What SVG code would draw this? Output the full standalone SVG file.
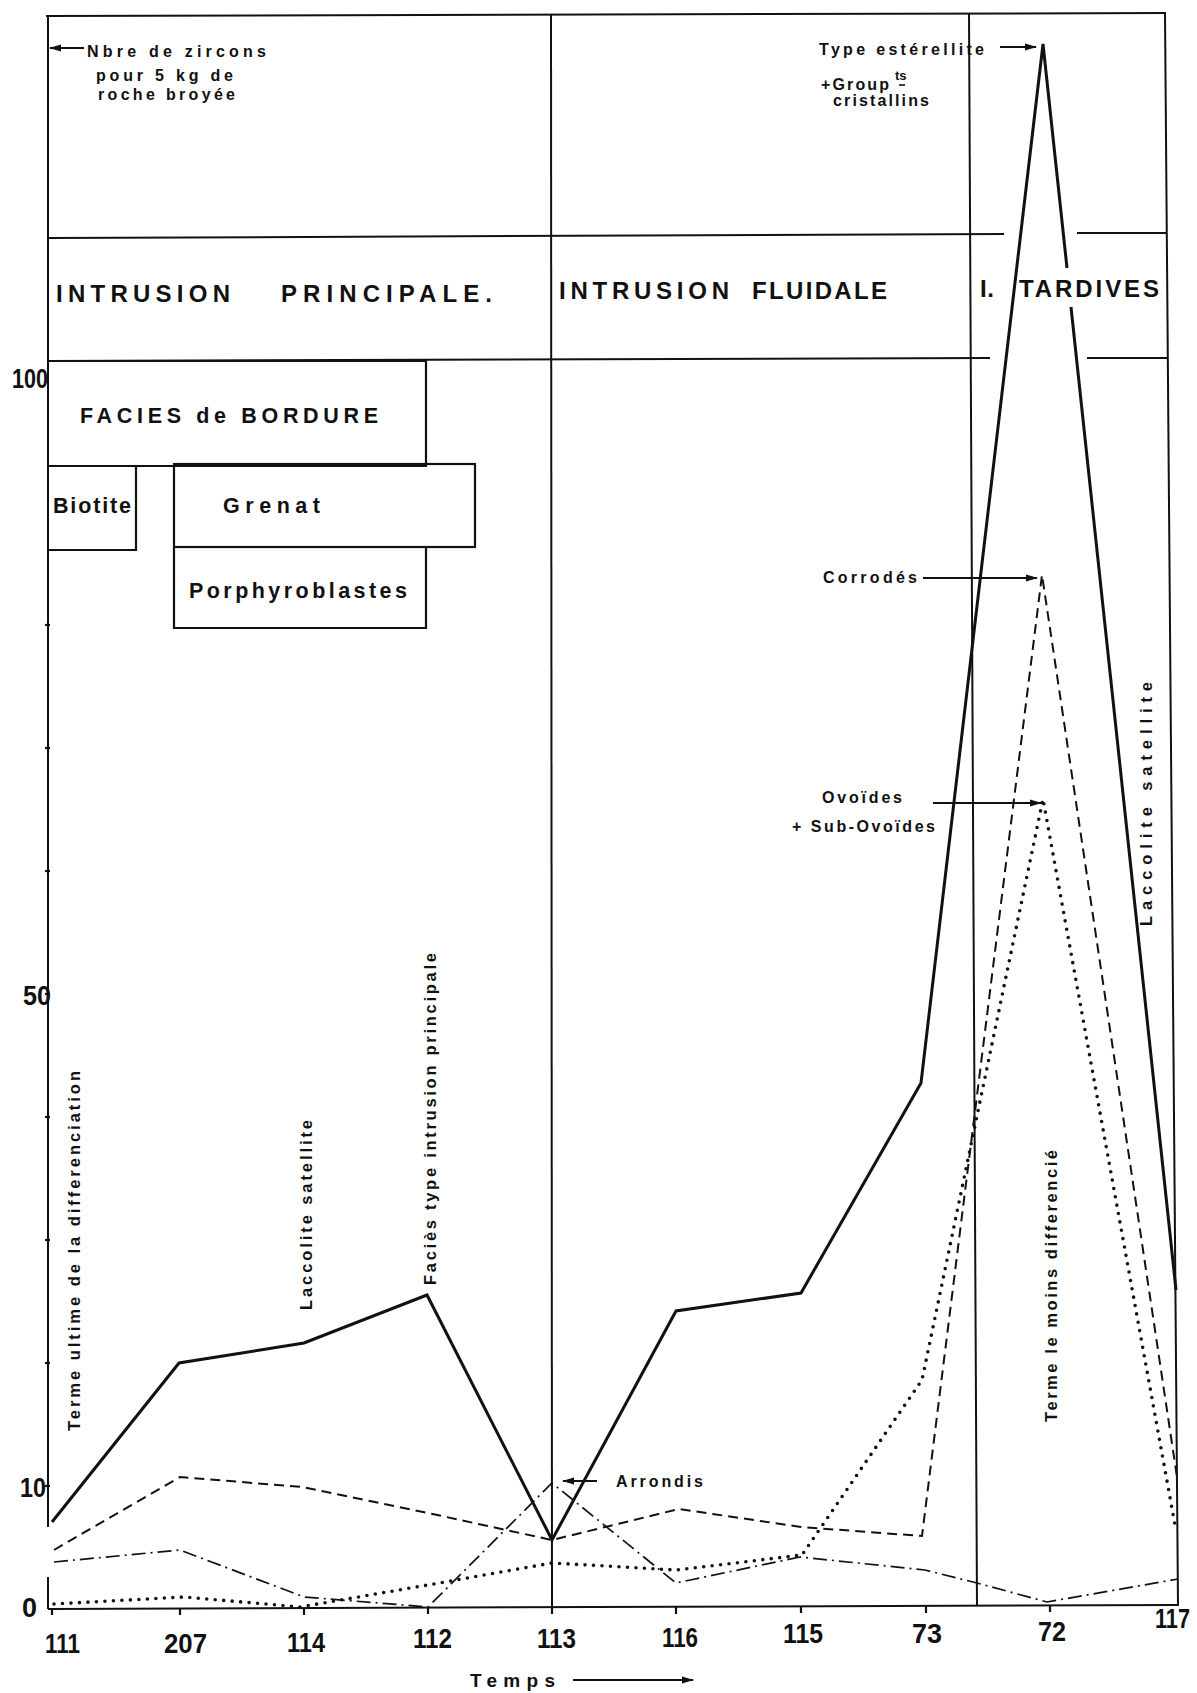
<svg xmlns="http://www.w3.org/2000/svg" width="1197" height="1693" viewBox="0 0 1197 1693">
<style>
.t{font-family:"Liberation Sans",Arial,sans-serif;font-weight:bold;fill:#111}
.s{font-size:16px}
.v{font-size:16.5px}
.b{font-size:24px}
.bx-t{font-size:21.5px}
.n{font-family:"Liberation Sans",Arial,sans-serif;font-weight:bold;font-size:27px;fill:#111}
.fr{stroke:#111;stroke-width:2;fill:none}
.bx{stroke:#111;stroke-width:2.2;fill:none}
.solid{stroke:#111;stroke-width:3;fill:none;stroke-linejoin:miter}
.dash{stroke:#111;stroke-width:2;fill:none;stroke-dasharray:10 6}
.dd{stroke:#111;stroke-width:1.7;fill:none;stroke-dasharray:14 5 2 5}
.dot{stroke:#111;stroke-width:3.6;fill:none;stroke-dasharray:0 8.5;stroke-linecap:round}
.ar{stroke:#111;stroke-width:2;fill:none}
</style>
<defs>
<marker id="ah" markerWidth="12" markerHeight="8" refX="11" refY="4" orient="auto" markerUnits="userSpaceOnUse">
<path d="M0,0.5 L12,4 L0,7.5 z" fill="#111"/>
</marker>
</defs>
<rect width="1197" height="1693" fill="#fff"/>

<g id="frame">
<line class="fr" x1="46" y1="16" x2="1166" y2="13"/>
<polyline class="fr" points="48,16 48,1527"/>
<polyline class="fr" points="48,1577 48,1609"/>
<line class="fr" x1="1165" y1="13" x2="1178" y2="1606" stroke-width="2.6"/>
<line class="fr" x1="48" y1="1609" x2="1178" y2="1605" stroke-width="2.6"/>
<line class="fr" x1="551" y1="15" x2="552" y2="1608" stroke-width="1.6"/>
<line class="fr" x1="969" y1="13" x2="977" y2="1606" stroke-width="1.6"/>
<line class="fr" x1="48" y1="238" x2="1004" y2="234"/>
<line class="fr" x1="1077" y1="233" x2="1166" y2="233"/>
<line class="fr" x1="48" y1="361" x2="990" y2="358"/>
<line class="fr" x1="1087" y1="358" x2="1167" y2="358"/>
</g>

<g id="ticks" stroke="#111" stroke-width="2.2">
<line x1="45" y1="1486" x2="50" y2="1486"/>
<line x1="45" y1="1363" x2="50" y2="1363"/>
<line x1="45" y1="1240" x2="50" y2="1240"/>
<line x1="45" y1="1117" x2="50" y2="1117"/>
<line x1="45" y1="994" x2="50" y2="994"/>
<line x1="45" y1="871" x2="50" y2="871"/>
<line x1="45" y1="748" x2="50" y2="748"/>
<line x1="45" y1="625" x2="50" y2="625"/>
<line x1="52" y1="1608" x2="52" y2="1615"/>
<line x1="180" y1="1608" x2="180" y2="1615"/>
<line x1="304" y1="1608" x2="304" y2="1615"/>
<line x1="428" y1="1607" x2="428" y2="1614"/>
<line x1="552" y1="1607" x2="552" y2="1614"/>
<line x1="676" y1="1607" x2="676" y2="1614"/>
<line x1="801" y1="1606" x2="801" y2="1613"/>
<line x1="926" y1="1606" x2="926" y2="1613"/>
<line x1="1050" y1="1605" x2="1050" y2="1612"/>
</g>

<g id="axis-labels">
<text class="n" x="22" y="1617" textLength="15" lengthAdjust="spacingAndGlyphs">0</text>
<text class="n" x="20" y="1497" textLength="26" lengthAdjust="spacingAndGlyphs">10</text>
<text class="n" x="23" y="1005" textLength="28" lengthAdjust="spacingAndGlyphs">50</text>
<text class="n" x="12" y="388" textLength="36" lengthAdjust="spacingAndGlyphs">100</text>
<text class="n" x="45" y="1653" textLength="35" lengthAdjust="spacingAndGlyphs">111</text>
<text class="n" x="164" y="1653" textLength="43" lengthAdjust="spacingAndGlyphs">207</text>
<text class="n" x="287" y="1652" textLength="38" lengthAdjust="spacingAndGlyphs">114</text>
<text class="n" x="413" y="1648" textLength="39" lengthAdjust="spacingAndGlyphs">112</text>
<text class="n" x="537" y="1648" textLength="39" lengthAdjust="spacingAndGlyphs">113</text>
<text class="n" x="662" y="1647" textLength="36" lengthAdjust="spacingAndGlyphs">116</text>
<text class="n" x="783" y="1643" textLength="40" lengthAdjust="spacingAndGlyphs">115</text>
<text class="n" x="912" y="1643" textLength="30" lengthAdjust="spacingAndGlyphs">73</text>
<text class="n" x="1038" y="1641" textLength="28" lengthAdjust="spacingAndGlyphs">72</text>
<text class="n" x="1155" y="1628" textLength="35" lengthAdjust="spacingAndGlyphs">117</text>
<text class="t" x="470" y="1687" font-size="19" textLength="85" lengthAdjust="spacing">Temps</text>
</g>

<g id="node-nbre">
<text class="t s" x="87" y="57" textLength="179" lengthAdjust="spacing">Nbre de zircons</text>
<text class="t s" x="96" y="81" textLength="137" lengthAdjust="spacing">pour 5 kg de</text>
<text class="t s" x="98" y="100" textLength="137" lengthAdjust="spacing">roche broyée</text>
</g>

<g id="node-esterellite">
<text class="t s" x="819" y="55" textLength="165" lengthAdjust="spacing">Type estérellite</text>
<text class="t s" x="821" y="90" textLength="68" lengthAdjust="spacing">+Group</text>
<text class="t" font-size="13" x="895" y="80">ts</text>
<line x1="899" y1="85" x2="905" y2="85" stroke="#111" stroke-width="1.6"/>
<text class="t s" x="833" y="106" textLength="96" lengthAdjust="spacing">cristallins</text>
</g>

<g id="node-intrusion-principale">
<text class="t b" x="56" y="302" textLength="174" lengthAdjust="spacing">INTRUSION</text>
<text class="t b" x="281" y="302" textLength="211" lengthAdjust="spacing">PRINCIPALE.</text>
</g>
<g id="node-intrusion-fluidale">
<text class="t b" x="559" y="299" textLength="170" lengthAdjust="spacing">INTRUSION</text>
<text class="t b" x="752" y="299" textLength="135" lengthAdjust="spacing">FLUIDALE</text>
</g>
<g id="node-tardives">
<text class="t b" x="980" y="297" textLength="14" lengthAdjust="spacing">I.</text>
<text class="t b" x="1019" y="297" textLength="140" lengthAdjust="spacing">TARDIVES</text>
</g>

<g id="node-facies-bordure">
<polyline class="bx" points="48,361 426,361 426,466 48,466"/>
<text class="t bx-t" x="80" y="423" textLength="298" lengthAdjust="spacing">FACIES de BORDURE</text>
</g>
<g id="node-biotite">
<polyline class="bx" points="48,466 136,466 136,550 48,550"/>
<text class="t bx-t" x="53" y="513" textLength="78" lengthAdjust="spacing">Biotite</text>
</g>
<g id="node-grenat">
<rect class="bx" x="174" y="464" width="301" height="83"/>
<text class="t bx-t" x="223" y="513" textLength="97" lengthAdjust="spacing">Grenat</text>
</g>
<g id="node-porphyroblastes">
<polyline class="bx" points="174,547 174,628 426,628 426,547"/>
<text class="t bx-t" x="189" y="598" textLength="218" lengthAdjust="spacing">Porphyroblastes</text>
</g>

<g id="node-vertical-labels">
<text class="t v" transform="translate(80,1431) rotate(-90)" textLength="360" lengthAdjust="spacing">Terme ultime de la differenciation</text>
<text class="t v" transform="translate(312,1310) rotate(-90)" textLength="190" lengthAdjust="spacing">Laccolite satellite</text>
<text class="t v" transform="translate(436,1285) rotate(-90)" textLength="332" lengthAdjust="spacing">Faciès type intrusion principale</text>
<text class="t v" transform="translate(1057,1422) rotate(-90)" textLength="272" lengthAdjust="spacing">Terme le moins differencié</text>
<text class="t v" transform="translate(1152,926) rotate(-90)" textLength="244" lengthAdjust="spacing">Laccolite satellite</text>
</g>

<g id="node-corrodes"><text class="t s" x="823" y="583" textLength="94" lengthAdjust="spacing">Corrodés</text></g>
<g id="node-ovoides">
<text class="t s" x="822" y="803" textLength="80" lengthAdjust="spacing">Ovoïdes</text>
<text class="t s" x="792" y="832" textLength="143" lengthAdjust="spacing">+ Sub-Ovoïdes</text>
</g>
<g id="node-arrondis"><text class="t s" x="616" y="1487" textLength="87" lengthAdjust="spacing">Arrondis</text></g>

<g id="connectors">
<polyline class="solid" points="52,1522 179,1363 304,1343 427,1295 552,1540 676,1311 801,1293 921,1083 1043,44 1067,268"/>
<polyline class="solid" points="1071,307 1176,1290"/>
<polyline class="dash" points="54,1550 180,1477 302,1487 428,1513 552,1540 679,1509 801,1527 922,1536 1042,575 1177,1477"/>
<polyline class="dd" points="54,1562 180,1550 304,1597 428,1607 552,1483 676,1583 800,1557 925,1570 977,1583 1047,1602 1178,1579"/>
<polyline class="dot" points="54,1604 184,1597 300,1607 428,1585 552,1563 676,1570 802,1555 922,1380 1043,799 1175,1525"/>
<line class="ar" x1="84" y1="48" x2="50" y2="48" marker-end="url(#ah)"/>
<line class="ar" x1="1000" y1="47" x2="1036" y2="47" marker-end="url(#ah)"/>
<line class="ar" x1="923" y1="578" x2="1037" y2="578" marker-end="url(#ah)"/>
<line class="ar" x1="933" y1="803" x2="1041" y2="803" marker-end="url(#ah)"/>
<line class="ar" x1="597" y1="1481" x2="563" y2="1481" marker-end="url(#ah)"/>
<line class="ar" x1="573" y1="1680" x2="693" y2="1680" marker-end="url(#ah)"/>
</g>
</svg>
